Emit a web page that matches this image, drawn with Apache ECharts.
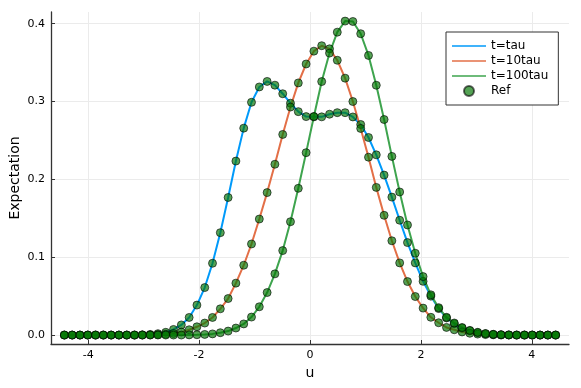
<!DOCTYPE html>
<html>
<head>
<meta charset="utf-8">
<script src="https://cdn.jsdelivr.net/npm/echarts@6/dist/echarts.min.js"></script>
<style>
    html, body { margin: 0; padding: 0; background: #fff; }
    #chart { width: 581px; height: 388px; }
</style>
</head>
<body>
<div id="chart"></div>
<script>
    // grid points (u)
    var u = [
        -4.429, -4.288, -4.148, -4.007, -3.867, -3.726, -3.585, -3.445, -3.304, -3.164,
        -3.023, -2.882, -2.742, -2.601, -2.461, -2.320, -2.179, -2.039, -1.898, -1.758,
        -1.617, -1.476, -1.336, -1.195, -1.055, -0.914, -0.773, -0.633, -0.492, -0.352,
        -0.211, -0.070, 0.070, 0.211, 0.352, 0.492, 0.633, 0.773, 0.914, 1.055,
        1.195, 1.336, 1.476, 1.617, 1.758, 1.898, 2.039, 2.179, 2.320, 2.461,
        2.601, 2.742, 2.882, 3.023, 3.164, 3.304, 3.445, 3.585, 3.726, 3.867,
        4.007, 4.148, 4.288, 4.429
    ];
    var tTau = [
        0, 0, 0, 0, 0, 0, 0, 0, 0, 0,
        0.0003, 0.0008, 0.0018, 0.0035, 0.0072, 0.013, 0.0226, 0.0385, 0.061, 0.0922,
        0.1315, 0.1767, 0.2235, 0.2658, 0.299, 0.3187, 0.3258, 0.321, 0.310, 0.2978,
        0.287, 0.2806, 0.2803, 0.2803, 0.2837, 0.2857, 0.2857, 0.2802, 0.2705, 0.2538,
        0.2315, 0.2055, 0.1772, 0.1475, 0.1188, 0.0927, 0.069, 0.050, 0.034, 0.022,
        0.0145, 0.009, 0.0055, 0.003, 0.0016, 0.0008, 0.0004, 0.0002, 0, 0,
        0, 0, 0, 0
    ];
    var t10Tau = [
        0, 0, 0, 0, 0, 0, 0, 0, 0, 0,
        0, 0.0002, 0.0005, 0.001, 0.002, 0.0038, 0.0068, 0.0106, 0.0154, 0.0226,
        0.0337, 0.0469, 0.0667, 0.0897, 0.117, 0.149, 0.183, 0.2194, 0.2577, 0.2929,
        0.3239, 0.3482, 0.3647, 0.3717, 0.3677, 0.353, 0.330, 0.300, 0.2654, 0.2285,
        0.1897, 0.1538, 0.1211, 0.0927, 0.0687, 0.0495, 0.0346, 0.0228, 0.0158, 0.0098,
        0.0068, 0.004, 0.0023, 0.0012, 0.0006, 0.0003, 0, 0, 0, 0,
        0, 0, 0, 0
    ];
    var t100Tau = [
        0, 0, 0, 0, 0, 0, 0, 0, 0, 0,
        0, 0, 0, 0, 0, 0, 0.0002, 0.0004, 0.0008, 0.0015,
        0.003, 0.0051, 0.009, 0.0143, 0.0231, 0.0363, 0.0546, 0.0786, 0.1085, 0.1456,
        0.1885, 0.2343, 0.2808, 0.3256, 0.3622, 0.3891, 0.4033, 0.4028, 0.3871, 0.3592,
        0.3209, 0.2769, 0.2295, 0.1838, 0.1414, 0.1051, 0.0751, 0.0517, 0.0352, 0.0228,
        0.0155, 0.0097, 0.006, 0.0035, 0.002, 0.001, 0.0005, 0.0002, 0, 0,
        0, 0, 0, 0
    ];
    var xTicks = [-4, -2, 0, 2, 4];
    var yTicks = [0, 0.1, 0.2, 0.3, 0.4];

    var names = ['t=tau', 't=10tau', 't=100tau'];
    var colors = ['#009AFA', '#E36F47', '#3EA44E'];
    var curves = [tTau, t10Tau, t100Tau];

    function pairs(ys) {
        return ys.map(function (v, i) { return [u[i], v]; });
    }

    var series = [];
    for (let i = 0; i < curves.length; i++) {
        series.push({
            name: names[i],
            type: 'line',
            data: pairs(curves[i]),
            symbol: 'none',
            lineStyle: { color: colors[i], width: 2 },
            itemStyle: { color: colors[i] },
            z: 2
        });
    }
    // reference points, all three sets in one series
    var refPts = [];
    curves.forEach(function (c) { refPts = refPts.concat(pairs(c)); });
    series.push({
        name: 'Ref',
        type: 'scatter',
        data: refPts,
        symbolSize: 8,
        itemStyle: {
            color: 'rgba(5,118,5,0.85)',
            borderColor: 'rgba(0,0,0,0.75)',
            borderWidth: 1
        },
        z: 3
    });

    // flat bar used as legend icon for the lines
    var lineIcon = 'path://M0,0 L34,0 L34,2 L0,2 Z';
    var legendData = names.map(function (n, i) {
        return { name: n, icon: lineIcon, itemStyle: { color: colors[i], opacity: 0.75, borderWidth: 0 } };
    });
    legendData.push({ name: 'Ref', icon: 'circle' });

    var font = 'DejaVu Sans';
    var axisCol = '#333';
    var chart = echarts.init(document.getElementById('chart'));
    var option = {
        animation: false,
        textStyle: { fontFamily: font },
        grid: { left: 51, right: 12, top: 12, bottom: 44, containLabel: false, outerBoundsMode: 'none' },
        legend: {
            orient: 'vertical',
            left: 446,
            top: 32,
            padding: [8, 10, 8, 6],
            itemWidth: 34,
            itemHeight: 10,
            itemGap: 3,
            borderColor: '#333',
            borderWidth: 1,
            borderRadius: 0,
            backgroundColor: '#fff',
            textStyle: { fontFamily: font, fontSize: 12, color: '#000' },
            data: legendData
        },
        xAxis: {
            type: 'value',
            min: -4.67,
            max: 4.67,
            name: 'u',
            nameLocation: 'middle',
            nameGap: 22,
            nameMoveOverlap: false,
            nameTextStyle: { fontFamily: font, fontSize: 14, color: '#000' },
            axisLine: { show: true, onZero: false, lineStyle: { color: axisCol, width: 1.3 } },
            axisTick: { show: true, inside: true, length: 4, customValues: xTicks, lineStyle: { color: axisCol } },
            axisLabel: { customValues: xTicks, fontSize: 11, color: '#000', margin: 6 },
            splitLine: { show: true, lineStyle: { color: '#ebebeb', width: 1 } }
        },
        yAxis: {
            type: 'value',
            min: -0.0115,
            max: 0.415,
            name: 'Expectation',
            nameLocation: 'middle',
            nameGap: 29,
            nameMoveOverlap: false,
            nameTextStyle: { fontFamily: font, fontSize: 14, color: '#000' },
            axisLine: { show: true, onZero: false, lineStyle: { color: axisCol, width: 1.3 } },
            axisTick: { show: true, inside: true, length: 4, customValues: yTicks, lineStyle: { color: axisCol } },
            axisLabel: {
                customValues: yTicks, fontSize: 11, color: '#000', margin: 6,
                formatter: function (v) { return v.toFixed(1); }
            },
            splitLine: { show: true, lineStyle: { color: '#ebebeb', width: 1 } }
        },
        series: series
    };
    chart.setOption(option);
</script>
</body>
</html>
